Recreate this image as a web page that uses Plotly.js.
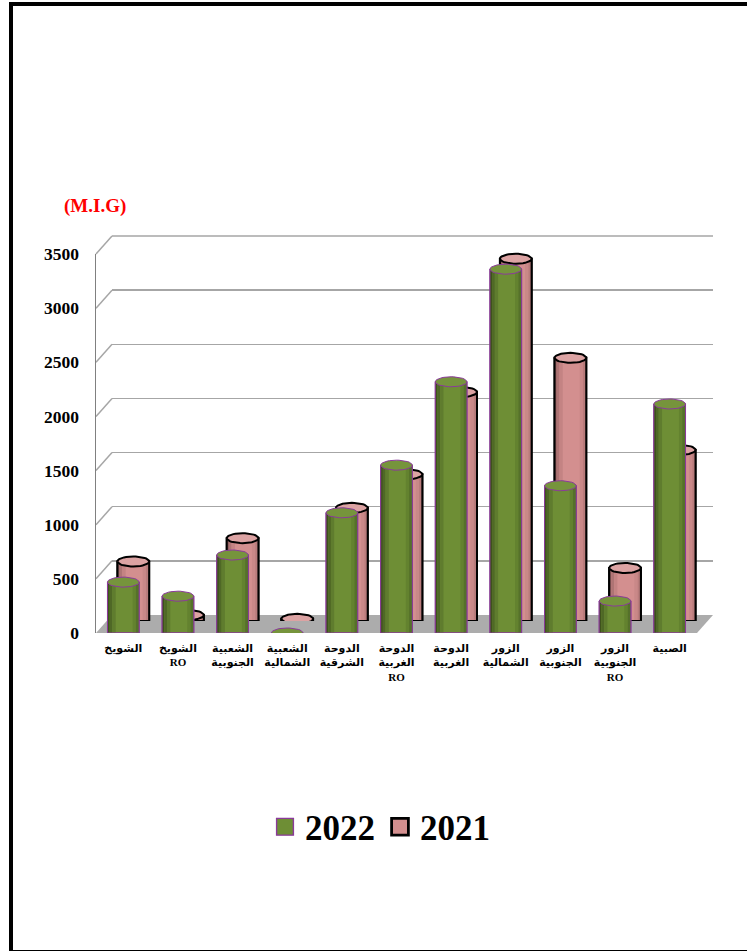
<!DOCTYPE html>
<html><head><meta charset="utf-8">
<script src="https://cdn.plot.ly/plotly-3.0.1.min.js"></script>
<style>
html,body{margin:0;padding:0;background:#fff;}
#chart{width:747px;height:951px;}
#frame{position:absolute;left:9px;top:2px;width:760px;height:944px;border:4px solid #000;pointer-events:none;}
</style></head>
<body>
<div id="chart"></div>
<div id="frame"></div>
<script>
// ---- data ----
const categories = ['الشويخ','الشويخ<br>RO','الشعبية<br>الجنوبية','الشعبية<br>الشمالية','الدوحة<br>الشرقية','الدوحة<br>الغربية<br>RO','الدوحة<br>الغربية','الزور<br>الشمالية','الزور<br>الجنوبية','الزور<br>الجنوبية<br>RO','الصبية'];
const values2022 = [470, 340, 720, 0, 1110, 1550, 2320, 3360, 1360, 295, 2115];
const values2021 = [550, 55, 765, 20, 1045, 1355, 2115, 3345, 2430, 490, 1580];
const yTicks = [0, 500, 1000, 1500, 2000, 2500, 3000, 3500];
const seriesNames = ['2022', '2021'];

// ---- geometry (pixels) ----
const W = 747, H = 951;
const front = {x0: 96, x1: 697, yb: 633, yt: 254};
const mid = {dx: 10, dy: -12};
const back = {dx: 16, dy: -18};
const yMax = 3500;
const px = v => v / W, py = v => 1 - v / H;
const idx = categories.map((_, i) => i);
const halfW = 0.29;
const ry = 5 * yMax / (front.yb - front.yt);

function dom(off) {
  return {
    x: [px(front.x0 + off.dx), px(front.x1 + off.dx)],
    y: [py(front.yb + off.dy), py(front.yt + off.dy)]
  };
}
const dFront = dom({dx: 0, dy: 0}), dMid = dom(mid), dBack = dom(back);

function ellipses(vals, full) {
  const xs = [], ys = [];
  vals.forEach((v, i) => {
    const n = 40;
    for (let k = 0; k <= n; k++) {
      const t = full ? 2 * Math.PI * k / n : Math.PI + Math.PI * k / n;
      xs.push(i - halfW * Math.cos(t));
      ys.push(v + ry * Math.sin(t));
    }
    xs.push(null); ys.push(null);
  });
  return {x: xs, y: ys};
}

// shading strips: [offset from left edge, width, colour]
function cylinder(vals, xa, ya, pal, lineCol, lineW, name, rank) {
  const zeros = vals.map(() => 0);
  const bot = ellipses(zeros, false);
  const tp = ellipses(vals, true);
  const out = [];
  out.push({type: 'bar', x: idx, y: vals, xaxis: xa, yaxis: ya, width: 2 * halfW, name: '<b>' + name + '</b>', legendrank: rank,
     marker: {color: pal.body, line: {color: lineCol, width: lineW}}, cliponaxis: false, hoverinfo: 'skip', showlegend: true});
  pal.strips.forEach(s => {
    out.push({type: 'bar', x: idx, y: vals, xaxis: xa, yaxis: ya, width: s[1], offset: -halfW + s[0],
      marker: {color: s[2], line: {width: 0}}, cliponaxis: false, hoverinfo: 'skip', showlegend: false});
  });
  out.push({type: 'bar', x: idx, y: vals, xaxis: xa, yaxis: ya, width: 2 * halfW,
     marker: {color: 'rgba(0,0,0,0)', line: {color: lineCol, width: lineW}}, cliponaxis: false, hoverinfo: 'skip', showlegend: false});
  out.push({type: 'scatter', mode: 'lines', x: bot.x, y: bot.y, xaxis: xa, yaxis: ya, fill: 'toself', fillcolor: pal.body,
     line: {color: lineCol, width: lineW}, cliponaxis: false, showlegend: false, hoverinfo: 'skip'});
  out.push({type: 'scatter', mode: 'lines', x: tp.x, y: tp.y, xaxis: xa, yaxis: ya, fill: 'toself', fillcolor: pal.top,
     line: {color: lineCol, width: lineW}, cliponaxis: false, showlegend: false, hoverinfo: 'skip'});
  return out;
}

const palGreen = {body: '#6E8E35', top: '#76943C', strips: [
  [0, 0.04, '#3E521C'], [0.04, 0.05, '#4F6826'], [0.09, 0.06, '#5F7C2E'], [0.46, 0.06, '#63822F'], [0.52, 0.06, '#55712A']]};
const palPink = {body: '#D38F8F', top: '#DCA3A3', strips: [
  [0, 0.04, '#8F5E5E'], [0.04, 0.05, '#AE7474'], [0.09, 0.06, '#C48383'], [0.46, 0.06, '#C98888'], [0.52, 0.06, '#B97C7C']]};

const traces = [
  {type: 'scatter', x: [0], y: [0], xaxis: 'x', yaxis: 'y', mode: 'markers', marker: {opacity: 0}, showlegend: false, hoverinfo: 'skip'}
].concat(
  cylinder(values2021, 'x2', 'y2', palPink, '#000000', 2, seriesNames[1], 2),
  cylinder(values2022, 'x3', 'y3', palGreen, '#8B3A9B', 1, seriesNames[0], 1)
);

const xr = [-0.5, categories.length - 0.5];
const serif = 'Liberation Serif, Times New Roman, DejaVu Serif, serif';
const arabicFont = 'Times New Roman, Liberation Serif, DejaVu Sans, serif';

// floor and side-wall diagonals
const shapes = [];
shapes.push({type: 'path', xref: 'paper', yref: 'paper', layer: 'below', fillcolor: '#ACACAC', line: {width: 0},
  path: 'M' + px(front.x0) + ',' + py(front.yb) + ' L' + px(front.x1) + ',' + py(front.yb) +
        ' L' + px(front.x1 + back.dx) + ',' + py(front.yb + back.dy) + ' L' + px(front.x0 + back.dx) + ',' + py(front.yb + back.dy) + ' Z'});
yTicks.forEach(v => {
  const yf = dFront.y[0] + v / yMax * (dFront.y[1] - dFront.y[0]);
  const yb = dBack.y[0] + v / yMax * (dBack.y[1] - dBack.y[0]);
  if (v > 0) {
    shapes.push({type: 'line', xref: 'paper', yref: 'paper', layer: 'below', x0: dFront.x[0], y0: yf, x1: dBack.x[0], y1: yb,
      line: {color: '#A6A6A6', width: 1.5}});
  }
});
// top back gridline (range edge)
shapes.push({type: 'line', xref: 'paper', yref: 'paper', layer: 'below', x0: dBack.x[0], y0: dBack.y[1], x1: dBack.x[1], y1: dBack.y[1],
  line: {color: '#A6A6A6', width: 1.5}});

const hidden = {showgrid: false, zeroline: false, showticklabels: false, showline: false, ticks: ''};
const layout = {
  width: W, height: H,
  margin: {l: 0, r: 0, t: 0, b: 0},
  paper_bgcolor: '#fff', plot_bgcolor: 'rgba(0,0,0,0)',
  barmode: 'overlay',
  showlegend: true,
  xaxis: Object.assign({}, hidden, {domain: dBack.x, range: xr}),
  yaxis: Object.assign({}, hidden, {domain: dBack.y, range: [0, yMax], showgrid: true, gridcolor: '#A6A6A6', gridwidth: 1.5, tickvals: yTicks.slice(1, -1)}),
  xaxis2: Object.assign({}, hidden, {domain: dMid.x, range: xr, anchor: 'y2'}),
  yaxis2: Object.assign({}, hidden, {domain: dMid.y, range: [0, yMax], anchor: 'x2'}),
  xaxis3: {domain: dFront.x, range: xr, anchor: 'y3', tickvals: idx, ticktext: categories, showgrid: false, zeroline: false, showline: false, ticks: '',
    ticklabelstandoff: 7, tickfont: {family: arabicFont, size: 11, color: '#000', weight: 700}, tickangle: 0},
  yaxis3: {domain: dFront.y, range: [0, yMax], anchor: 'x3', tickvals: yTicks, showgrid: false, zeroline: false, showline: true, linecolor: '#808080', linewidth: 1.5,
    ticks: '', ticklabelstandoff: 12, tickfont: {family: serif, size: 17.5, color: '#000', weight: 700}},
  shapes: shapes,
  annotations: [{xref: 'paper', yref: 'paper', x: px(95), y: py(206), text: '(M.I.G)', showarrow: false,
    font: {family: serif, size: 19, color: '#FF0000', weight: 700}, xanchor: 'center', yanchor: 'middle'}],
  legend: {orientation: 'h', x: px(380), y: py(827), xanchor: 'center', yanchor: 'middle',
    font: {family: serif, size: 35, color: '#000', weight: 700}, itemwidth: 30, tracegroupgap: 0},
  hovermode: false
};

Plotly.newPlot('chart', traces, layout, {displayModeBar: false, staticPlot: true}).then(gd => {
  gd.querySelectorAll('.legend .legendpoints path').forEach(p => {
    const t = p.getAttribute('transform') || '';
    p.setAttribute('transform', t + ' scale(1.4)');
  });
});
</script>
</body></html>
